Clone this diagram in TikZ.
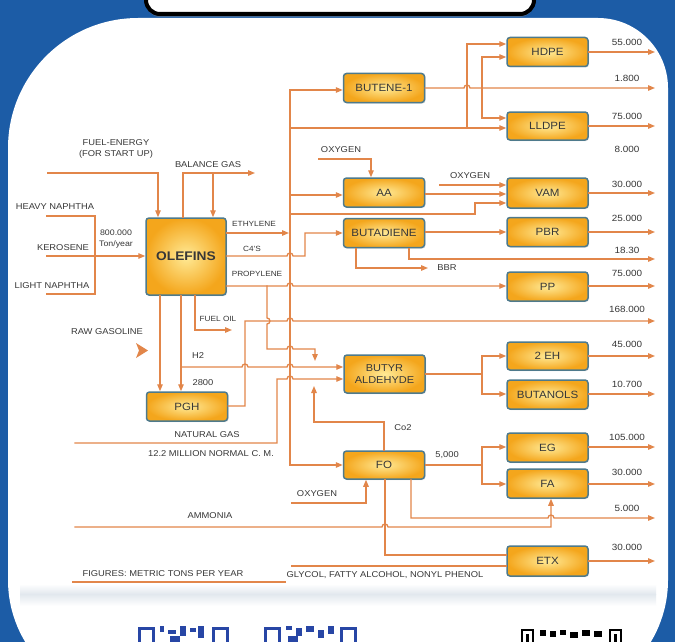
\documentclass[tikz,border=0pt]{standalone}
\usepackage{fontspec}
\setmainfont{Liberation Sans}[FakeStretch=1.1]
\usetikzlibrary{arrows.meta,shadows}
\definecolor{flowc}{RGB}{226,134,74}
\definecolor{bgblue}{RGB}{28,92,166}
\definecolor{boxline}{RGB}{78,122,140}
\definecolor{boxin}{RGB}{255,234,150}
\definecolor{boxout}{RGB}{244,166,28}
\definecolor{txt}{RGB}{55,55,55}
\definecolor{qrblue}{RGB}{40,70,165}
\definecolor{band}{RGB}{226,232,238}
\tikzset{
  flow/.style={draw=flowc, line width=1.3pt, line cap=rect},
  arr/.style={flow, -{Triangle[length=7pt,width=5.5pt]}},
  unit/.style={draw=boxline, line width=1.5pt, rounded corners=3pt,
    inner color=boxin, outer color=boxout, text=txt,
    font=\fontsize{10.5}{12}\selectfont, minimum width=81pt, minimum height=29pt,
    inner sep=1pt, align=center,
    drop shadow={opacity=0.25, shadow xshift=1pt, shadow yshift=-1pt}},
  lbl/.style={font=\fontsize{8.5}{11.5}\selectfont, text=txt, inner sep=0pt, align=center},
  sml/.style={font=\fontsize{7.5}{9}\selectfont, text=txt, inner sep=0pt},
  num/.style={font=\fontsize{9}{10}\selectfont, text=txt, inner sep=0pt},
}
\begin{document}
\begin{tikzpicture}[x=1pt,y=-1pt]
\useasboundingbox (0,0) rectangle (675,642);
\clip (0,0) rectangle (675,642);
% background and panel
\fill[bgblue] (0,0) rectangle (675,642);
\fill[white] (8,148) arc[start angle=180,end angle=270,radius=130] -- (598,18)
  arc[start angle=270,end angle=360,radius=70] -- (668,580)
  arc[start angle=0,end angle=90,radius=120] -- (128,700)
  arc[start angle=90,end angle=180,radius=120] -- cycle;
\shade[top color=white, bottom color=band] (20,584) rectangle (656,594);
\shade[top color=band, bottom color=white] (20,594) rectangle (656,606);
% title banner
\draw[line width=4pt, fill=white, rounded corners=14pt,
  drop shadow={opacity=0.45, shadow xshift=0pt, shadow yshift=-3pt}] (146,-30) rectangle (534,14);

% ---------- process units ----------
\node[unit] (hdpe) at (547.5,52) {HDPE};
\node[unit] (butene) at (384,88) {BUTENE-1};
\node[unit, minimum height=28pt] (lldpe) at (547.5,126) {LLDPE};
\node[unit] (aa) at (384,192.5) {AA};
\node[unit, minimum height=30pt] (vam) at (547.5,193) {VAM};
\node[unit] (butadiene) at (384,233) {BUTADIENE};
\node[unit] (pbr) at (547.5,232) {PBR};
\node[unit] (pp) at (547.5,286.5) {PP};
\node[unit, minimum width=80pt, minimum height=77pt, font=\fontsize{12.5}{14}\bfseries] (olefins) at (186,256.5) {OLEFINS};
\node[unit] (pgh) at (187,406.5) {PGH};
\node[unit, minimum height=38pt, font=\fontsize{10}{11.5}\selectfont] (butyr) at (384.5,374) {BUTYR\\ALDEHYDE};
\node[unit, minimum height=28pt] (eh) at (547.5,356) {2 EH};
\node[unit] (butanols) at (547.5,394.5) {BUTANOLS};
\node[unit, minimum height=28pt] (fo) at (384,465) {FO};
\node[unit] (eg) at (547.5,447.5) {EG};
\node[unit] (fa) at (547.5,483.5) {FA};
\node[unit, minimum height=30pt] (etx) at (547.5,561) {ETX};

% ---------- feeds to OLEFINS ----------
\draw[arr] (48,173) -- (158,173) -- (olefins.north -| 158,0);
\draw[arr] (olefins.north -| 183,0) -- (183,173) -- (255,173);
\draw[arr] (213,173) -- (olefins.north -| 213,0);
\draw[flow] (47,216) -- (95,216) -- (95,294) -- (47,294);
\draw[arr] (47,256) -- (olefins.west |- 0,256);

% ---------- ethylene bus ----------
\draw[arr] (olefins.east |- 0,233) -- (289,233);
\draw[arr] (290,90) -- (290,465) -- (fo.west |- 0,465);
\draw[arr] (290,90) -- (butene.west |- 0,90);
\draw[arr] (290,128) -- (lldpe.west |- 0,128);
\draw[arr] (467,128) -- (467,44) -- (hdpe.west |- 0,44);
\draw[arr] (482,88) -- (482,57) -- (hdpe.west |- 0,57);
\draw[arr] (482,88) -- (482,118) -- (lldpe.west |- 0,118);
\draw[arr] (butene.east |- 0,88) -- (464,88) arc[start angle=180,end angle=360,radius=3] -- (655,88);
\draw[arr] (290,195) -- (aa.west |- 0,195);
\draw[arr] (290,214) -- (475,214) -- (475,203) -- (vam.west |- 0,203);
\draw[arr] (440,185) -- (vam.west |- 0,185);
\draw[arr] (aa.east |- 0,194) -- (vam.west |- 0,194);
\draw[arr] (319,159) -- (371,159) -- (aa.north -| 371,0);

% ---------- C4's / propylene ----------
\draw[arr] (olefins.east |- 0,256) -- (287,256) arc[start angle=180,end angle=360,radius=3] -- (305,256) -- (305,233) -- (butadiene.west |- 0,233);
\draw[arr] (olefins.east |- 0,286) -- (287,286) arc[start angle=180,end angle=360,radius=3] -- (pp.west |- 0,286);
\draw[arr] (267,286) -- (267,318) arc[start angle=270,end angle=450,radius=3] -- (267,349) -- (287,349) arc[start angle=180,end angle=360,radius=3] -- (315,349) -- (315,361);

% ---------- fuel oil, PGH ----------
\draw[arr] (olefins.south -| 195,0) -- (195,330) -- (232,330);
\draw[arr] (olefins.south -| 160,0) -- (pgh.north -| 160,0);
\draw[arr] (olefins.south -| 181,0) -- (pgh.north -| 181,0);
\draw[arr] (181,367) -- (242,367) arc[start angle=180,end angle=360,radius=3] -- (287,367) arc[start angle=180,end angle=360,radius=3] -- (butyr.west |- 0,367);
\draw[arr] (pgh.east |- 0,406) -- (245,406) -- (245,321) -- (287,321) arc[start angle=180,end angle=360,radius=3] -- (655,321);
\draw[arr] (75,443) -- (277,443) -- (277,379) -- (287,379) arc[start angle=180,end angle=360,radius=3] -- (butyr.west |- 0,379);
\draw[arr] (fo.north -| 384,0) -- (384,422) -- (314,422) -- (314,386);

% ---------- butadiene ----------
\draw[arr] (butadiene.east |- 0,232) -- (pbr.west |- 0,232);
\draw[arr] (butadiene.south -| 409,0) -- (409,259) -- (655,259);
\draw[arr] (butadiene.south -| 356,0) -- (356,268) -- (428,268);

% ---------- butyraldehyde ----------
\draw[flow] (butyr.east |- 0,374) -- (482,374);
\draw[arr] (482,374) -- (482,356) -- (eh.west |- 0,356);
\draw[arr] (482,374) -- (482,394) -- (butanols.west |- 0,394);

% ---------- FO ----------
\draw[arr] (292,503) -- (366,503) -- (fo.south -| 366,0);
\draw[flow] (fo.east |- 0,465) -- (482,465);
\draw[arr] (482,465) -- (482,447) -- (eg.west |- 0,447);
\draw[arr] (482,465) -- (482,484) -- (fa.west |- 0,484);
\draw[arr] (fo.south -| 411,0) -- (411,518) -- (548,518) arc[start angle=180,end angle=360,radius=3] -- (655,518);
\draw[flow] (fo.south -| 385,0) -- (385,555) -- (etx.west |- 0,555);
\draw[arr] (75,527) -- (382,527) arc[start angle=180,end angle=360,radius=3] -- (551,527) -- (fa.south -| 551,0);
\draw[flow] (292,566) -- (etx.west |- 0,566);
\draw[flow] (73,582) -- (285,582);

% ---------- product outputs ----------
\draw[arr] (hdpe.east |- 0,52) -- (655,52);
\draw[arr] (lldpe.east |- 0,126) -- (655,126);
\draw[arr] (vam.east |- 0,193) -- (655,193);
\draw[arr] (pbr.east |- 0,232) -- (655,232);
\draw[arr] (pp.east |- 0,286) -- (655,286);
\draw[arr] (eh.east |- 0,356) -- (655,356);
\draw[arr] (butanols.east |- 0,394) -- (655,394);
\draw[arr] (eg.east |- 0,447) -- (655,447);
\draw[arr] (fa.east |- 0,484) -- (655,484);
\draw[arr] (etx.east |- 0,561) -- (655,561);

% raw gasoline arrowhead
\fill[flowc] (136,343) -- (148,350.5) -- (136,358) -- (139,350.5) -- cycle;

% ---------- labels ----------
\node[lbl] (tfuel) at (116,149) {FUEL-ENERGY\\(FOR START UP)};
\node[lbl] (tbal) at (208,165) {BALANCE GAS};
\node[lbl] (theavy) at (55,207) {HEAVY NAPHTHA};
\node[lbl] (tker) at (63,248) {KEROSENE};
\node[lbl] (tlight) at (52,286) {LIGHT NAPHTHA};
\node[lbl, font=\fontsize{8}{11}\selectfont] (tcap) at (116,239) {800.000\\Ton/year};
\node[sml] (teth) at (254,224) {ETHYLENE};
\node[sml] (tc4) at (252,249) {C4'S};
\node[sml] (tprop) at (257,274) {PROPYLENE};
\node[sml] (tfo) at (218,319) {FUEL OIL};
\node[lbl] (traw) at (107,332) {RAW GASOLINE};
\node[lbl] (th2) at (198,356) {H2};
\node[lbl] (t2800) at (203,383) {2800};
\node[lbl] (tng) at (207,435) {NATURAL GAS};
\node[lbl] (tngq) at (211,454) {12.2 MILLION NORMAL C. M.};
\node[lbl] (tox1) at (341,150) {OXYGEN};
\node[lbl] (tox2) at (470,176) {OXYGEN};
\node[lbl] (tbbr) at (447,268) {BBR};
\node[lbl] (tco2) at (403,428) {Co2};
\node[lbl] (t5k) at (447,455) {5,000};
\node[lbl] (tox3) at (317,494) {OXYGEN};
\node[lbl] (tamm) at (210,516) {AMMONIA};
\node[lbl] (tfig) at (163,574) {FIGURES: METRIC TONS PER YEAR};
\node[lbl] (tgly) at (385,575) {GLYCOL, FATTY ALCOHOL, NONYL PHENOL};

\node[num] (n1) at (627,42) {55.000};
\node[num] (n2) at (627,78) {1.800};
\node[num] (n3) at (627,116) {75.000};
\node[num] (n4) at (627,149) {8.000};
\node[num] (n5) at (627,184) {30.000};
\node[num] (n6) at (627,218) {25.000};
\node[num] (n7) at (627,250) {18.30};
\node[num] (n8) at (627,273) {75.000};
\node[num] (n9) at (627,309) {168.000};
\node[num] (n10) at (627,344) {45.000};
\node[num] (n11) at (627,384) {10.700};
\node[num] (n12) at (627,437) {105.000};
\node[num] (n13) at (627,472) {30.000};
\node[num] (n14) at (627,508) {5.000};
\node[num] (n15) at (627,547) {30.000};

% ---------- QR codes (cut off at bottom) ----------
\begin{scope}[qrblue]
\draw[line width=3pt] (139,628) rectangle (153,650);
\draw[line width=3pt] (213,628) rectangle (227,650);
\fill (160,626) rectangle (164,632); \fill (168,630) rectangle (176,634);
\fill (180,626) rectangle (186,636); \fill (190,628) rectangle (196,632);
\fill (198,626) rectangle (204,638); \fill (170,636) rectangle (180,642);
\draw[line width=3pt] (265,628) rectangle (279,650);
\draw[line width=3pt] (341,628) rectangle (355,650);
\fill (286,626) rectangle (292,630); \fill (296,628) rectangle (302,636);
\fill (306,626) rectangle (314,632); \fill (318,630) rectangle (324,638);
\fill (328,626) rectangle (334,634); \fill (288,636) rectangle (298,642);
\end{scope}
\begin{scope}[black]
\draw[line width=2pt] (522,630) rectangle (533,650);
\draw[line width=2pt] (610,630) rectangle (621,650);
\fill (526,634) rectangle (529,642); \fill (614,634) rectangle (617,642);
\fill (540,630) rectangle (546,636); \fill (550,631) rectangle (556,637);
\fill (560,630) rectangle (566,635); \fill (570,632) rectangle (578,638);
\fill (582,630) rectangle (590,636); \fill (594,631) rectangle (602,637);
\end{scope}
\end{tikzpicture}
\end{document}
